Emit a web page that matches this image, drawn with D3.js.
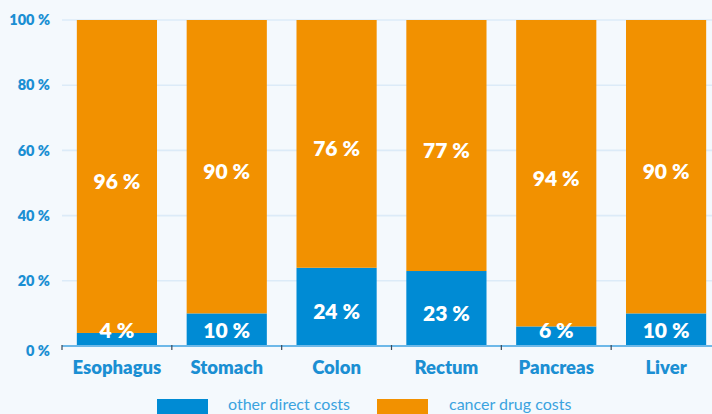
<!DOCTYPE html>
<html><head><meta charset="utf-8">
<script src="https://cdn.jsdelivr.net/npm/d3@7"></script>
<style>
html,body{margin:0;padding:0;background:#f4f9fd;}
svg{display:block;}
</style></head>
<body>
<script>
const categories = ["Esophagus","Stomach","Colon","Rectum","Pancreas","Liver"];
const otherDirect = [4,10,24,23,6,10];
const cancerDrug = [96,90,76,77,94,90];
const yTicks = [0,20,40,60,80,100];
const seriesNames = ["other direct costs","cancer drug costs"];

const W=712,H=414;
const blue="#008bd4", orange="#f29100", txt="#1b8fd3";
const svg=d3.select("body").append("svg").attr("width",W).attr("height",H);
svg.append("rect").attr("width",W).attr("height",H).attr("fill","#f4f9fd");

const x=d3.scaleBand().domain(categories).range([62,721]).paddingInner(0.27).paddingOuter(0.135);
const y=d3.scaleLinear().domain([0,100]).range([346,20]);

// grid
svg.append("g").selectAll("line").data(yTicks.filter(d=>d>0)).join("line")
  .attr("x1",62).attr("x2",W).attr("y1",d=>y(d)).attr("y2",d=>y(d))
  .attr("stroke","#dcebf8").attr("stroke-width",1.6);

// y labels
svg.append("g").selectAll("text").data(yTicks).join("text")
  .attr("x",50).attr("y",d=>y(d)+(d===0?5:0)).attr("dy","0.36em").attr("text-anchor","end")
  .attr("font-family","Lato, sans-serif").attr("font-weight",800).attr("font-size",14.5)
  .attr("fill",txt).text(d=>d+" %");

const stacked = d3.stack().keys([0,1])(categories.map((c,i)=>({c, 0:otherDirect[i], 1:cancerDrug[i]})));
const colors=[blue,orange];

stacked.forEach((s,k)=>{
  svg.append("g").selectAll("rect").data(s).join("rect")
    .attr("x",d=>x(d.data.c)).attr("width",x.bandwidth())
    .attr("y",d=>y(d[1])).attr("height",d=>y(d[0])-y(d[1]))
    .attr("fill",colors[k]);
});

// baseline
svg.append("line").attr("x1",62).attr("x2",W).attr("y1",346).attr("y2",346)
  .attr("stroke","#6db8e8").attr("stroke-width",2);
// boundary ticks
const half = x.step()*x.paddingInner()/2;
svg.append("g").selectAll("line").data(categories).join("line")
  .attr("x1",d=>x(d)-half).attr("x2",d=>x(d)-half).attr("y1",345).attr("y2",350)
  .attr("stroke","#3a4a5a").attr("stroke-width",1.2);

// value labels
stacked.forEach((s,k)=>{
  svg.append("g").selectAll("text").data(s).join("text")
    .attr("x",d=>x(d.data.c)+x.bandwidth()/2)
    .attr("y",d=>{let c=(y(d[0])+y(d[1]))/2+5; if(k===0) c=Math.min(c,330); return c;})
    .attr("dy","0.36em").attr("text-anchor","middle")
    .attr("font-family","Lato, sans-serif").attr("font-weight",800).attr("font-size",21)
    .attr("fill","#fff").text(d=>(d[1]-d[0])+" %");
});

// category labels
svg.append("g").selectAll("text").data(categories).join("text")
  .attr("x",d=>x(d)+x.bandwidth()/2).attr("y",374).attr("text-anchor","middle")
  .attr("font-family","Lato, sans-serif").attr("font-weight",800).attr("font-size",18.5)
  .attr("fill",txt).text(d=>d);

// legend
const leg=[{x:157,tx:228},{x:377,tx:449}];
seriesNames.forEach((n,i)=>{
  svg.append("rect").attr("x",leg[i].x).attr("y",399).attr("width",51).attr("height",16).attr("fill",colors[i]);
  svg.append("text").attr("x",leg[i].tx).attr("y",409.5).attr("font-family","Lato, sans-serif")
    .attr("font-size",16).attr("fill","#3ba3df").text(n);
});
</script>
</body></html>
